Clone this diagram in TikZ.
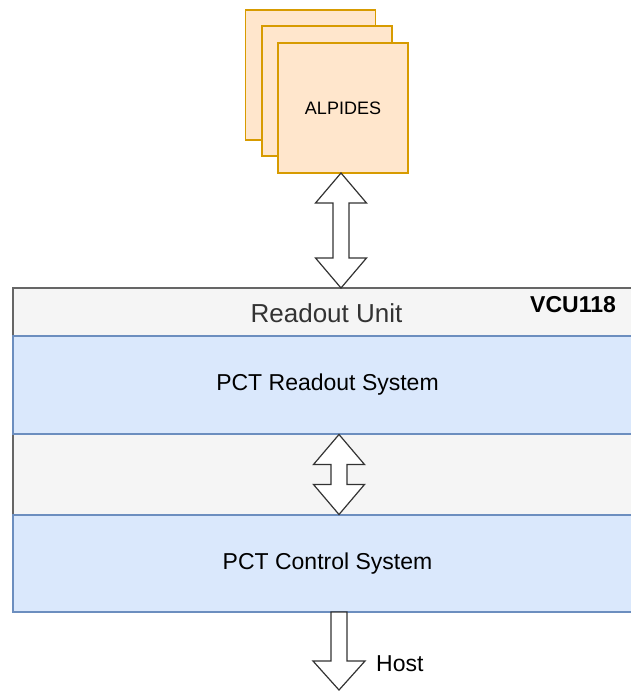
\documentclass[tikz,border=0pt]{standalone}
\usepackage{fontspec}
\setmainfont{Liberation Sans}
\usetikzlibrary{calc}
\definecolor{chipfill}{HTML}{FFE6CC}
\definecolor{chipline}{HTML}{D79B00}
\definecolor{unitfill}{HTML}{F5F5F5}
\definecolor{unitline}{HTML}{666666}
\definecolor{sysfill}{HTML}{DAE8FC}
\definecolor{sysline}{HTML}{6C8EBF}
\definecolor{unittext}{HTML}{333333}
\tikzset{
  chip/.style={draw=chipline, fill=chipfill, line width=1.2pt,
    minimum width=130pt, minimum height=130pt, inner sep=0pt,
    font=\fontsize{18}{22}\selectfont},
  layer/.style={draw=sysline, fill=sysfill, line width=1.2pt,
    minimum width=629pt, inner sep=0pt, font=\fontsize{23}{27}\selectfont},
  blockarrow/.style={draw=black!80, fill=white, line width=1.2pt, line join=miter},
  lbl/.style={inner sep=0pt, font=\fontsize{23}{27}\selectfont},
}
% vertical double block arrow between two tips (upper, lower)
\newcommand\vdblarrow[2]{%
  \draw[blockarrow] let \p1=(#1), \p2=(#2) in
    (\x1,\y1) -- (\x1+25.5pt,\y1-30pt) -- (\x1+8pt,\y1-30pt)
    -- (\x1+8pt,\y2+30pt) -- (\x1+25.5pt,\y2+30pt) -- (\x1,\y2)
    -- (\x1-25.5pt,\y2+30pt) -- (\x1-8pt,\y2+30pt)
    -- (\x1-8pt,\y1-30pt) -- (\x1-25.5pt,\y1-30pt) -- cycle;}
% downward single block arrow from a start point to a tip
\newcommand\vdownarrow[2]{%
  \draw[blockarrow] let \p1=(#1), \p2=(#2) in
    (\x1-8pt,\y1) -- (\x1+8pt,\y1) -- (\x1+8pt,\y2+29pt)
    -- (\x1+26pt,\y2+29pt) -- (\x1,\y2) -- (\x1-26pt,\y2+29pt)
    -- (\x1-8pt,\y2+29pt) -- cycle;}
\begin{document}
\begin{tikzpicture}[x=1pt, y=-1pt]
  \useasboundingbox (0,0) rectangle (630,692);

  % stacked ALPIDE chips
  \node[chip] (alpA) at (310.5,75) {};
  \node[chip] (alpB) at (327,91) {};
  \node[chip] (alpC) at (343,108) {ALPIDES};

  % readout unit board with its two layers
  \node[draw=unitline, fill=unitfill, line width=1.2pt, minimum width=629pt,
        minimum height=324pt, inner sep=0pt] (ru) at (327.5,450) {};
  \node[lbl, anchor=base, text=unittext, font=\fontsize{26}{30}\selectfont]
        (rutitle) at (326.5,322.7) {Readout Unit};
  \node[lbl, anchor=base west, font=\fontsize{23}{27}\selectfont\bfseries]
        (board) at (530,312) {VCU118};
  \node[layer, minimum height=98pt] (prs) at (327.5,385) {PCT Readout System};
  \node[layer, minimum height=97pt] (pcs) at (327.5,563.5) {PCT Control System};

  % tips of the block arrows
  \coordinate (t1) at (341,173);
  \coordinate (b1) at (341,288);
  \coordinate (t2) at (339,434.5);
  \coordinate (b2) at (339,514.5);
  \coordinate (t3) at (339,612);
  \coordinate (b3) at (339,690);

  \vdblarrow{t1}{b1}
  \vdblarrow{t2}{b2}
  \vdownarrow{t3}{b3}

  \node[lbl, anchor=base west] (host) at (376,671) {Host};
\end{tikzpicture}
\end{document}
